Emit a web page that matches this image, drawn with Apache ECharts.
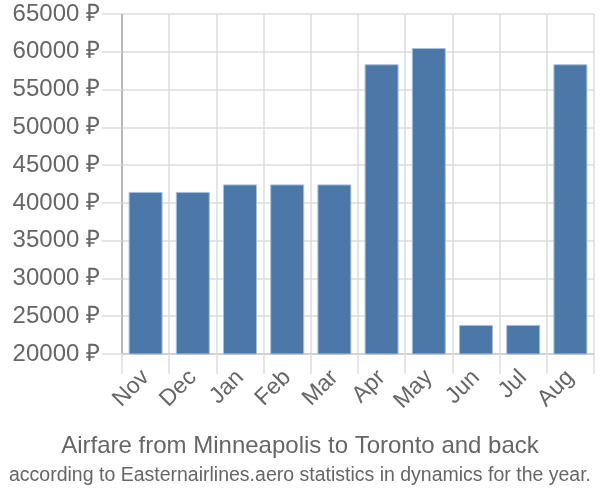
<!DOCTYPE html>
<html>
<head>
<meta charset="utf-8">
<script src="https://cdn.jsdelivr.net/npm/echarts@6/dist/echarts.min.js"></script>
<style>html,body{margin:0;padding:0;background:#fff}#c{width:600px;height:500px}</style>
</head>
<body>
<div id="c"></div>
<script>
const categories = ['Nov','Dec','Jan','Feb','Mar','Apr','May','Jun','Jul','Aug'];
const prices = [41450, 41450, 42450, 42450, 42450, 58350, 60500, 23850, 23850, 58350];
const yMin = 20000, yMax = 65000, yStep = 5000;
const titleText = 'Airfare from Minneapolis to Toronto and back';
const subText = 'according to Easternairlines.aero statistics in dynamics for the year.';

const chart = echarts.init(document.getElementById('c'), null, {renderer:'canvas'});
chart.setOption({
  animation: false,
  textStyle: {fontFamily: 'Liberation Sans, Arial, sans-serif'},
  title: [
    {text: titleText, left: 300, top: 434, textAlign: 'center', padding: 0,
     textStyle: {fontSize: 24, fontWeight: 'normal', color: '#666', fontFamily: 'Liberation Sans'}},
    {text: subText, left: 300, top: 466, textAlign: 'center', padding: 0,
     textStyle: {fontSize: 19.5, fontWeight: 'normal', color: '#666', fontFamily: 'Liberation Sans'}}
  ],
  grid: {left: 122, right: 6, top: 14, bottom: 146, containLabel: false},
  xAxis: {
    type: 'category', data: categories,
    axisLine: {lineStyle: {color: '#ccc', width: 1.5}},
    axisTick: {show: true, length: 20, lineStyle: {color: '#ddd', width: 1.5}},
    splitLine: {show: true, lineStyle: {color: '#ddd', width: 1.5}},
    axisLabel: {rotate: 45, color: '#666', fontSize: 23, margin: 20}
  },
  yAxis: {
    type: 'value', min: yMin, max: yMax, interval: yStep,
    axisLine: {show: true, lineStyle: {color: '#aaa', width: 1.5}},
    axisTick: {show: true, length: 20, lineStyle: {color: '#ddd', width: 1.5}},
    splitLine: {show: true, lineStyle: {color: '#ddd', width: 1.5}},
    axisLabel: {formatter: v => v + ' ₽', color: '#666', fontSize: 24, margin: 22}
  },
  series: [{
    type: 'bar', data: prices, barCategoryGap: '28%',
    itemStyle: {color: '#4c78a8', borderColor: '#a9c0da', borderWidth: 1}
  }]
});
</script>
</body>
</html>
